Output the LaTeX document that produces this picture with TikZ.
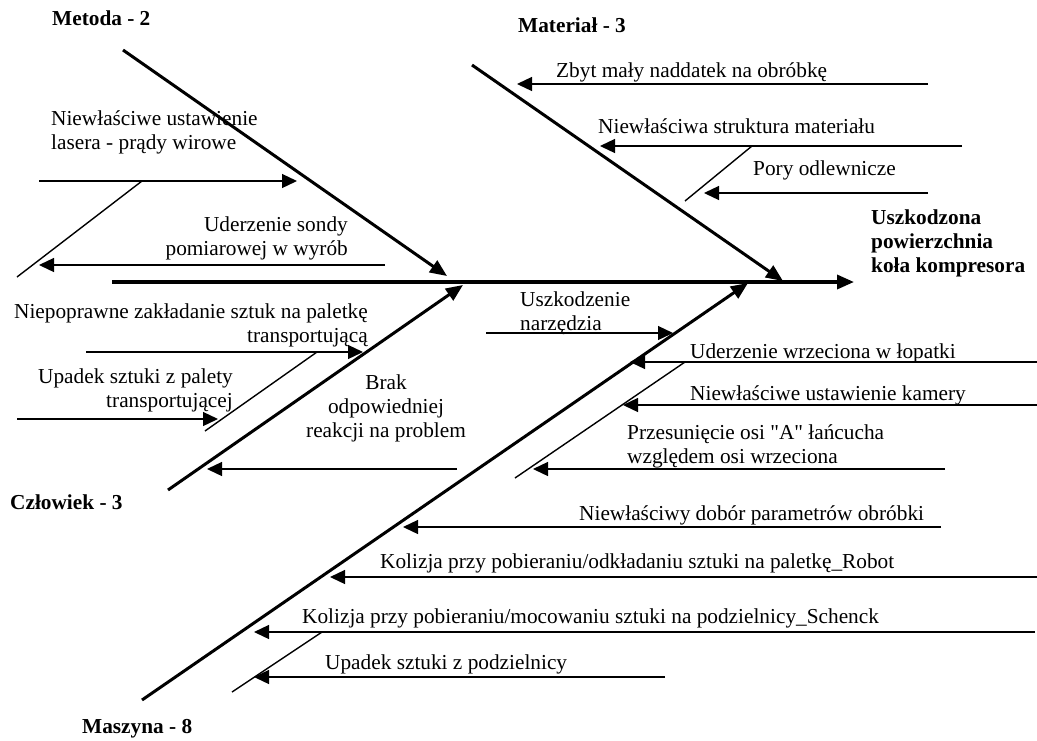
\documentclass[tikz,border=0pt]{standalone}
\usepackage{fontspec}
\setmainfont{Liberation Serif}[Ligatures=TeXOff]
\usetikzlibrary{arrows.meta}
\begin{document}
\begin{tikzpicture}[x=1pt,y=-1pt,
  spine/.style={line width=3.4pt},
  bone/.style={line width=3pt},
  twig/.style={line width=1.4pt},
  cause/.style={line width=1.3pt},
  bonetip/.style={-{Triangle[length=17pt,width=14pt]}},
  causetip/.style={-{Triangle[length=15pt,width=14pt]}},
  lbl/.style={inner sep=0pt, font=\fontsize{21.3pt}{24pt}\selectfont},
  ttl/.style={inner sep=0pt, font=\fontsize{21.3pt}{24pt}\selectfont\bfseries},
]
\fill[white] (0,0) rectangle (1037,740);
\useasboundingbox (0,0) rectangle (1037,740);

% ---------- spine and effect ----------
% multi-line labels are placed by the baseline of their last line
\coordinate (sp0) at (112,282);
\coordinate (head) at (854,282);
\draw[spine,bonetip] (sp0) -- (head);
\node[ttl, align=left, anchor=base west] (effect) at (871,272)
  {Uszkodzona\\powierzchnia\\koła kompresora};

% ---------- Metoda ----------
\coordinate (mA) at (123,50);
\coordinate (mB) at (447,276);
\draw[bone,bonetip] (mA) -- (mB);
\node[ttl, anchor=base west] (tMetoda) at (52,25) {Metoda - 2};

\node[lbl, align=left, anchor=base west] (m1) at (51,149)
  {Niewłaściwe ustawienie\\lasera - prądy wirowe};
\coordinate (m1a) at (39,181);
\coordinate (m1b) at (297,181);
\draw[cause,causetip] (m1a) -- (m1b);
\coordinate (m1t0) at (142,181);
\coordinate (m1t1) at (17,277);
\draw[twig] (m1t0) -- (m1t1);

\node[lbl, align=right, anchor=base east] (m2) at (348,255)
  {Uderzenie sondy\\pomiarowej w wyrób};
\coordinate (m2a) at (385,265);
\coordinate (m2b) at (39,265);
\draw[cause,causetip] (m2a) -- (m2b);

% ---------- Materiał ----------
\coordinate (tA) at (472,65);
\coordinate (tB) at (783,281);
\draw[bone,bonetip] (tA) -- (tB);
\node[ttl, anchor=base west] (tMaterial) at (518,32) {Materiał - 3};

\node[lbl, anchor=base west] (t1) at (556,77) {Zbyt mały naddatek na obróbkę};
\coordinate (t1a) at (928,84);
\coordinate (t1b) at (517,84);
\draw[cause,causetip] (t1a) -- (t1b);

\node[lbl, anchor=base west] (t2) at (598,133) {Niewłaściwa struktura materiału};
\coordinate (t2a) at (962,146);
\coordinate (t2b) at (600,146);
\draw[cause,causetip] (t2a) -- (t2b);
\coordinate (t2t0) at (752,146);
\coordinate (t2t1) at (685,201);
\draw[twig] (t2t0) -- (t2t1);

\node[lbl, anchor=base west] (t3) at (753,175) {Pory odlewnicze};
\coordinate (t3a) at (928,193);
\coordinate (t3b) at (704,193);
\draw[cause,causetip] (t3a) -- (t3b);

% ---------- Człowiek ----------
\coordinate (cA) at (168,490);
\coordinate (cB) at (463,285);
\draw[bone,bonetip] (cA) -- (cB);
\node[ttl, anchor=base west] (tCzlowiek) at (10,509) {Człowiek - 3};

\node[lbl, align=right, anchor=base east] (c1) at (368,342)
  {Niepoprawne zakładanie sztuk na paletkę\\transportującą};
\coordinate (c1a) at (86,352);
\coordinate (c1b) at (363,352);
\draw[cause,causetip] (c1a) -- (c1b);
\coordinate (c1t0) at (317,352);
\coordinate (c1t1) at (205,431);
\draw[twig] (c1t0) -- (c1t1);

\node[lbl, align=right, anchor=base east] (c2) at (233,407)
  {Upadek sztuki z palety\\transportującej};
\coordinate (c2a) at (17,419);
\coordinate (c2b) at (218,419);
\draw[cause,causetip] (c2a) -- (c2b);

\node[lbl, align=center, anchor=base] (c3) at (386,437)
  {Brak\\odpowiedniej\\reakcji na problem};
\coordinate (c3a) at (457,469);
\coordinate (c3b) at (207,469);
\draw[cause,causetip] (c3a) -- (c3b);

% ---------- Maszyna ----------
\coordinate (sA) at (142,700);
\coordinate (sB) at (748,283);
\draw[bone,bonetip] (sA) -- (sB);
\node[ttl, anchor=base west] (tMaszyna) at (82,733) {Maszyna - 8};

\node[lbl, align=left, anchor=base west] (s1) at (520,330)
  {Uszkodzenie\\narzędzia};
\coordinate (s1a) at (486,333);
\coordinate (s1b) at (673,333);
\draw[cause,causetip] (s1a) -- (s1b);

\node[lbl, anchor=base west] (s2) at (690,358) {Uderzenie wrzeciona w łopatki};
\coordinate (s2a) at (1037,362);
\coordinate (s2b) at (630,362);
\draw[cause,causetip] (s2a) -- (s2b);
\coordinate (s2t0) at (685,362);
\coordinate (s2t1) at (515,478);
\draw[twig] (s2t0) -- (s2t1);

\node[lbl, anchor=base west] (s3) at (690,400) {Niewłaściwe ustawienie kamery};
\coordinate (s3a) at (1037,405);
\coordinate (s3b) at (623,405);
\draw[cause,causetip] (s3a) -- (s3b);

\node[lbl, align=left, anchor=base west] (s4) at (627,463)
  {Przesunięcie osi "A" łańcucha\\względem osi wrzeciona};
\coordinate (s4a) at (945,469);
\coordinate (s4b) at (533,469);
\draw[cause,causetip] (s4a) -- (s4b);

\node[lbl, anchor=base west] (s5) at (579,520) {Niewłaściwy dobór parametrów obróbki};
\coordinate (s5a) at (941,527);
\coordinate (s5b) at (403,527);
\draw[cause,causetip] (s5a) -- (s5b);

\node[lbl, anchor=base west] (s6) at (380,568)
  {Kolizja przy pobieraniu/odkładaniu sztuki na paletkę\_Robot};
\coordinate (s6a) at (1037,577);
\coordinate (s6b) at (330,577);
\draw[cause,causetip] (s6a) -- (s6b);

\node[lbl, anchor=base west] (s7) at (302,623)
  {Kolizja przy pobieraniu/mocowaniu sztuki na podzielnicy\_Schenck};
\coordinate (s7a) at (1035,632);
\coordinate (s7b) at (254,632);
\draw[cause,causetip] (s7a) -- (s7b);
\coordinate (s7t0) at (322,632);
\coordinate (s7t1) at (232,692);
\draw[twig] (s7t0) -- (s7t1);

\node[lbl, anchor=base west] (s8) at (325,669) {Upadek sztuki z podzielnicy};
\coordinate (s8a) at (665,677);
\coordinate (s8b) at (254,677);
\draw[cause,causetip] (s8a) -- (s8b);
\end{tikzpicture}
\end{document}
